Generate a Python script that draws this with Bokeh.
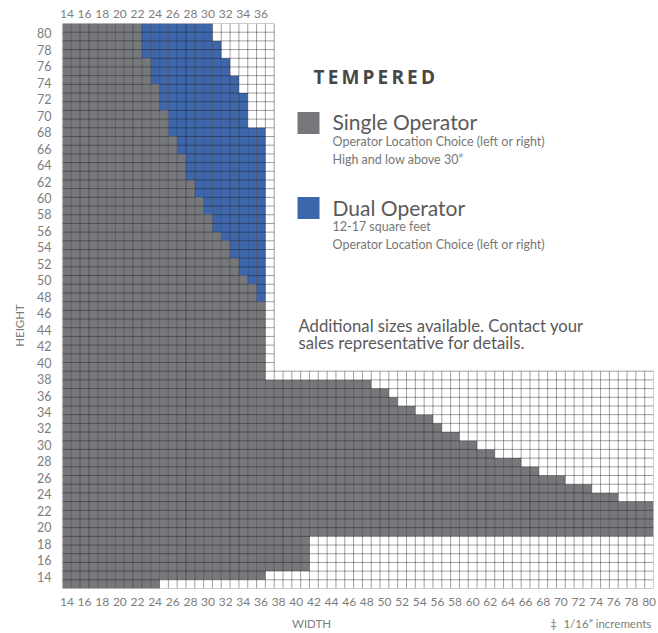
from bokeh.plotting import figure
from bokeh.models import FixedTicker, LinearAxis, Label, ColumnDataSource
from bokeh.embed import file_html
from bokeh.resources import INLINE

# ------------------------------------------------------------------ data
widths = [14, 15, 16, 17, 18, 19, 20, 21, 22, 23, 24, 25, 26, 27, 28, 29, 30,
          31, 32, 33, 34, 35, 36, 37, 38, 39, 40, 41, 42, 43, 44, 45, 46, 47,
          48, 49, 50, 51, 52, 53, 54, 55, 56, 57, 58, 59, 60, 61, 62, 63, 64,
          65, 66, 67, 68, 69, 70, 71, 72, 73, 74, 75, 76, 77, 78, 79, 80]

# single operator: lowest and highest height available for each width
single_min = [13, 13, 13, 13, 13, 13, 13, 13, 13, 13, 13,
              14, 14, 14, 14, 14, 14, 14, 14, 14, 14, 14, 14,
              15, 15, 15, 15, 15,
              19, 19, 19, 19, 19, 19, 19, 19, 19, 19, 19, 19, 19, 19, 19, 19,
              19, 19, 19, 19, 19, 19, 19, 19, 19, 19, 19, 19, 19, 19, 19, 19,
              19, 19, 19, 19, 19, 19, 19]
single_max = [80, 80, 80, 80, 80, 80, 80, 80, 80,
              76, 73, 70, 67, 65, 62, 60, 58, 56, 55, 53, 51, 50, 48,
              36, 36, 36, 36, 36, 36, 36, 36, 36, 36, 36, 36,
              35, 35, 34, 33, 33, 32, 32, 31, 30, 30, 29, 29, 28, 28,
              27, 27, 27, 26, 26, 25, 25, 25, 24, 24, 24, 23, 23, 23,
              22, 22, 22, 22]

# dual operator
dual_widths = [23, 24, 25, 26, 27, 28, 29, 30, 31, 32, 33, 34, 35, 36]
dual_min = [77, 74, 71, 68, 66, 63, 61, 59, 57, 56, 54, 52, 51, 49]
dual_max = [80, 80, 80, 80, 80, 80, 80, 80, 78, 76, 74, 72, 68, 68]

# the two printed grids (width span, height span); heights 38-40 are not printed
upper_grid_w = (14, 37)
upper_grid_h = (41, 80)
lower_grid_w = (14, 80)
lower_grid_h = (13, 37)

# tick labels
top_ticks = [14, 16, 18, 20, 22, 24, 26, 28, 30, 32, 34, 36]
bottom_ticks = [14, 16, 18, 20, 22, 24, 26, 28, 30, 32, 34, 36, 38, 40, 42,
                44, 46, 48, 50, 52, 54, 56, 58, 60, 62, 64, 66, 68, 70, 72, 74,
                76, 78, 80]
left_ticks = [14, 16, 18, 20, 22, 24, 26, 28, 30, 32, 34, 36, 38, 40, 42, 44,
              46, 48, 50, 52, 54, 56, 58, 60, 62, 64, 66, 68, 70, 72, 74, 76,
              78, 80]

GRAY = "#77787b"
BLUE = "#3e66ab"


# ------------------------------------------------------------------ row mapping (broken height axis)
def row_bottom(h):
    skip = (upper_grid_h[0] - lower_grid_h[1] - 1) if h >= upper_grid_h[0] else 0
    return h - lower_grid_h[0] - skip


n_rows = row_bottom(upper_grid_h[1]) + 1

p = figure(width=658, height=633, x_range=(lower_grid_w[0] - 0.5, lower_grid_w[1] + 0.5),
           y_range=(0, n_rows), output_backend="svg", toolbar_location=None,
           min_border_left=62, min_border_right=5, min_border_top=23,
           min_border_bottom=45)
p.outline_line_color = None
p.grid.visible = False
p.background_fill_color = "white"
p.border_fill_color = "white"

# cells
single_src = ColumnDataSource(dict(
    left=[w - 0.5 for w in widths], right=[w + 0.5 for w in widths],
    bottom=[row_bottom(h) for h in single_min],
    top=[row_bottom(h) + 1 for h in single_max]))
p.quad(left="left", right="right", bottom="bottom", top="top", source=single_src,
       fill_color=GRAY, line_color=None)

dual_src = ColumnDataSource(dict(
    left=[w - 0.5 for w in dual_widths], right=[w + 0.5 for w in dual_widths],
    bottom=[row_bottom(h) for h in dual_min],
    top=[row_bottom(h) + 1 for h in dual_max]))
p.quad(left="left", right="right", bottom="bottom", top="top", source=dual_src,
       fill_color=BLUE, line_color=None)

# grid lines of the printed grids
x0, y0, x1, y1 = [], [], [], []
for wb in range(lower_grid_w[0], lower_grid_w[1] + 2):
    xb = wb - 0.5
    top = n_rows if xb <= upper_grid_w[1] + 0.5 else row_bottom(lower_grid_h[1]) + 1
    x0.append(xb); x1.append(xb); y0.append(0); y1.append(top)
for r in range(0, n_rows + 1):
    right = lower_grid_w[1] + 0.5 if r <= row_bottom(lower_grid_h[1]) + 1 else upper_grid_w[1] + 0.5
    x0.append(lower_grid_w[0] - 0.5); x1.append(right); y0.append(r); y1.append(r)
p.segment(x0=x0, y0=y0, x1=x1, y1=y1, line_color="#111111", line_alpha=0.4,
          line_width=1)

# axes
LBL = "#7d7d7d"
FONT = "Lato"


def style_axis(ax, standoff, size="12px"):
    ax.axis_line_color = None
    ax.major_tick_line_color = None
    ax.minor_tick_line_color = None
    ax.major_label_text_color = LBL
    ax.major_label_text_font = FONT
    ax.major_label_text_font_size = size
    ax.major_label_standoff = standoff


xa = p.xaxis[0]
xa.ticker = FixedTicker(ticks=bottom_ticks)
style_axis(xa, 3)

ta = LinearAxis(ticker=FixedTicker(ticks=top_ticks))
style_axis(ta, 0)
p.add_layout(ta, "above")

# printed y labels are spaced evenly from 14 to 80
y_lab_lo, y_lab_hi = 1.38, 63.85
ypos = [round(y_lab_lo + (v - left_ticks[0]) * (y_lab_hi - y_lab_lo) /
              (left_ticks[-1] - left_ticks[0]), 3) for v in left_ticks]
ya = p.yaxis[0]
ya.ticker = FixedTicker(ticks=ypos)
ya.major_label_overrides = {pos: str(v) for pos, v in zip(ypos, left_ticks)}
style_axis(ya, 5, "12.5px")

# axis titles, set where the print has them
height_title_y = 30.26
ha = LinearAxis(ticker=FixedTicker(ticks=[height_title_y]))
ha.major_label_overrides = {height_title_y: "HEIGHT"}
style_axis(ha, 2, "11.5px")
ha.major_label_orientation = "vertical"
p.add_layout(ha, "left")

width_title_x, dagger_x, incr_x = 41.73, 69.16, 75.28
wa = LinearAxis(ticker=FixedTicker(ticks=[width_title_x, dagger_x, incr_x]))
wa.major_label_overrides = {width_title_x: "WIDTH", dagger_x: "\u2021",
                            incr_x: "1/16\u201d increments"}
style_axis(wa, 2, "11.5px")
p.add_layout(wa, "below")


def label(x, y, text, size, color="#5a5a5a", font=FONT, style="normal"):
    p.add_layout(Label(x=x, y=y, x_units="canvas", y_units="canvas", text=text,
                       text_font_size=size, text_color=color, text_font=font,
                       text_font_style=style, text_align="left",
                       text_baseline="middle"))


# legend block
p.rect(x=[41.39, 41.39], y=[53.55, 43.78], width=22, height=22, width_units="screen",
       height_units="screen", fill_color=[GRAY, BLUE], line_color=None)
label(313, 76, "T\u2009E\u2009M\u2009P\u2009E\u2009R\u2009E\u2009D", "19px",
      color="#474747", font="Open Sans", style="bold")
label(332, 121, "Single Operator", "21px")
label(332, 141, "Operator Location Choice (left or right)", "12.5px", color="#777777")
label(332, 159, "High and low above 30\u201d", "12.5px", color="#777777")
label(332, 207, "Dual Operator", "21px")
label(332, 226, "12-17 square feet", "12.5px", color="#777777")
label(332, 243.5, "Operator Location Choice (left or right)", "12.5px", color="#777777")
label(298, 325, "Additional sizes available. Contact your", "16.7px")
label(298, 342, "sales representative for details.", "16.7px")

open("out.html", "w").write(file_html(p, INLINE))
